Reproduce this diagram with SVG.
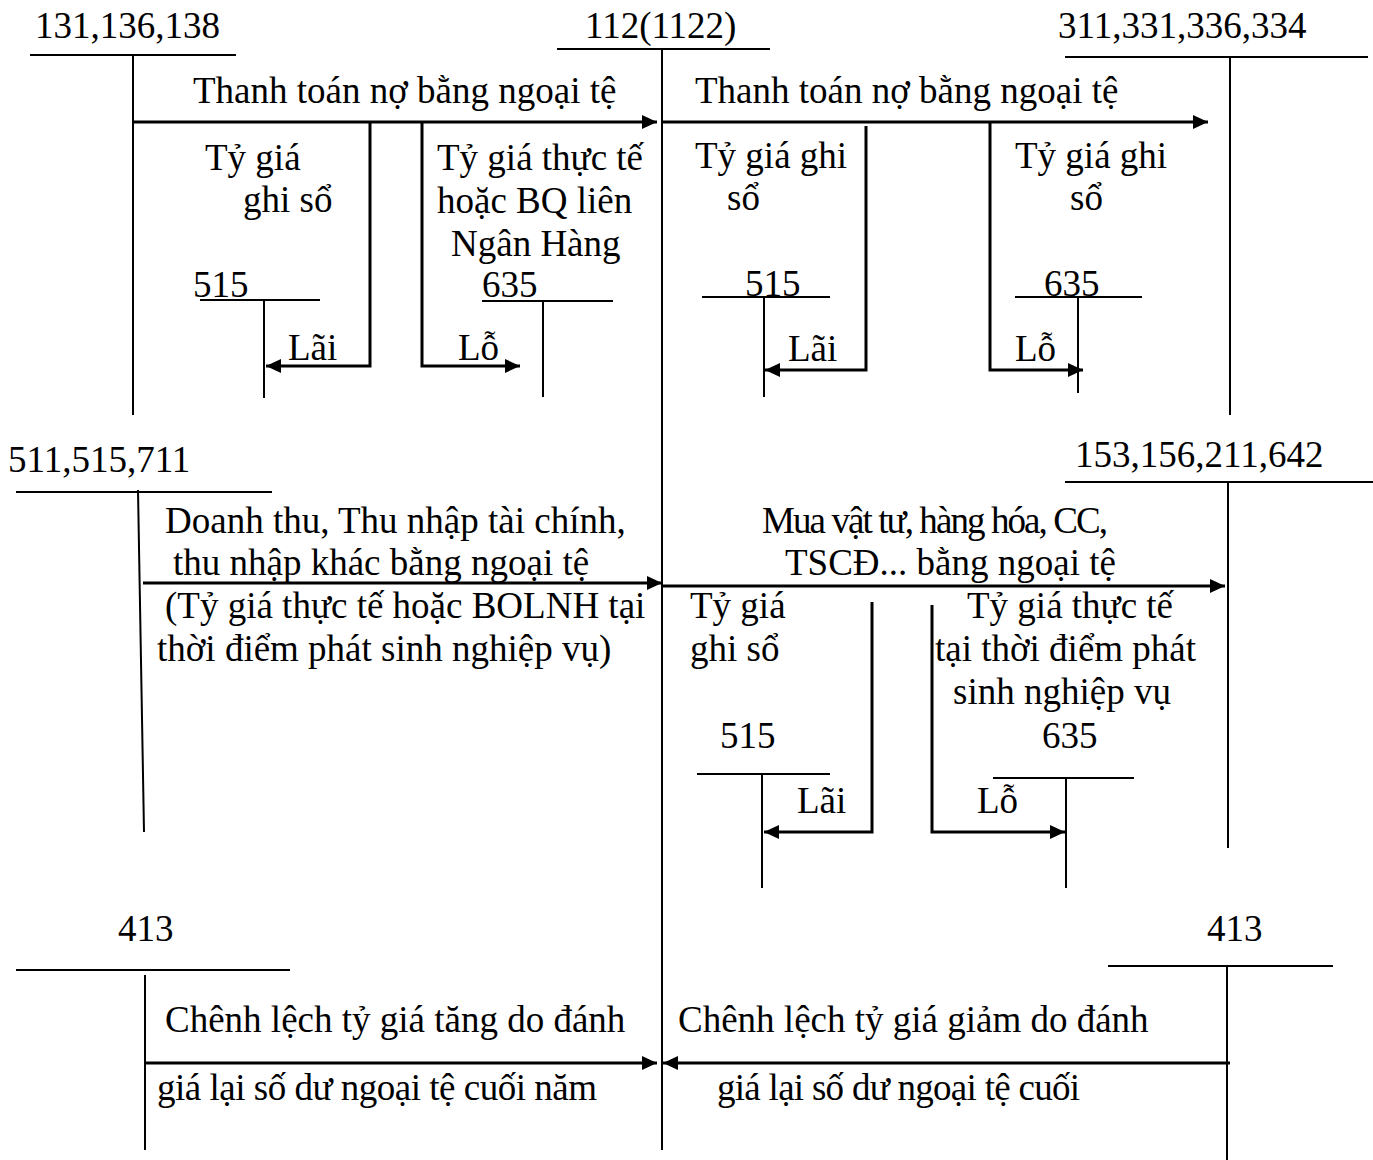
<svg xmlns="http://www.w3.org/2000/svg" width="1373" height="1160" viewBox="0 0 1373 1160">
<style>
text{font-family:"Liberation Serif","Times New Roman",serif;font-size:37px;fill:#000}
.ln{stroke:#000;stroke-width:2;fill:none}
.ar{stroke:#000;stroke-width:3;fill:none;marker-end:url(#ah)}
</style>
<defs>
<marker id="ah" markerUnits="userSpaceOnUse" markerWidth="16" markerHeight="16" refX="15" refY="8" orient="auto">
<path d="M0,1 L15,8 L0,15 z" fill="#000"/>
</marker>
</defs>
<rect width="1373" height="1160" fill="#fff"/>

<g id="acc-131">
<text x="35" y="38">131,136,138</text>
<line class="ln" x1="30" y1="55" x2="236" y2="55"/>
<line class="ln" x1="133" y1="55" x2="133" y2="415"/>
</g>
<g id="acc-112">
<text x="585" y="38">112(1122)</text>
<line class="ln" x1="557" y1="49" x2="770" y2="49"/>
<line class="ln" x1="662" y1="49" x2="662" y2="1150"/>
</g>
<g id="acc-311">
<text x="1058" y="38">311,331,336,334</text>
<line class="ln" x1="1065" y1="57" x2="1368" y2="57"/>
<line class="ln" x1="1230" y1="57" x2="1230" y2="415"/>
</g>
<g id="acc-515-a">
<text x="193" y="297">515</text>
<line class="ln" x1="200" y1="300" x2="320" y2="300"/>
<line class="ln" x1="264" y1="300" x2="264" y2="398"/>
</g>
<g id="acc-635-a">
<text x="482" y="297">635</text>
<line class="ln" x1="482" y1="301" x2="613" y2="301"/>
<line class="ln" x1="543" y1="301" x2="543" y2="397"/>
</g>
<g id="acc-515-b">
<text x="745" y="296">515</text>
<line class="ln" x1="702" y1="297" x2="830" y2="297"/>
<line class="ln" x1="764" y1="297" x2="764" y2="397"/>
</g>
<g id="acc-635-b">
<text x="1044" y="296">635</text>
<line class="ln" x1="1015" y1="297" x2="1142" y2="297"/>
<line class="ln" x1="1078" y1="297" x2="1078" y2="393"/>
</g>
<g id="acc-511">
<text x="8" y="472">511,515,711</text>
<line class="ln" x1="16" y1="492" x2="272" y2="492"/>
<line class="ln" x1="138" y1="490" x2="144" y2="832"/>
</g>
<g id="acc-153">
<text x="1075" y="467">153,156,211,642</text>
<line class="ln" x1="1065" y1="482" x2="1373" y2="482"/>
<line class="ln" x1="1228" y1="482" x2="1228" y2="848"/>
</g>
<g id="acc-515-c">
<text x="720" y="748">515</text>
<line class="ln" x1="697" y1="774" x2="830" y2="774"/>
<line class="ln" x1="762" y1="774" x2="762" y2="888"/>
</g>
<g id="acc-635-c">
<text x="1042" y="748">635</text>
<line class="ln" x1="993" y1="778" x2="1134" y2="778"/>
<line class="ln" x1="1066" y1="778" x2="1066" y2="888"/>
</g>
<g id="acc-413-a">
<text x="118" y="941">413</text>
<line class="ln" x1="16" y1="970" x2="290" y2="970"/>
<line class="ln" x1="145" y1="975" x2="145" y2="1150"/>
</g>
<g id="acc-413-b">
<text x="1207" y="941">413</text>
<line class="ln" x1="1108" y1="966" x2="1333" y2="966"/>
<line class="ln" x1="1227" y1="966" x2="1227" y2="1160"/>
</g>

<g id="connectors">
<line class="ar" x1="133" y1="122" x2="657" y2="122"/>
<polyline class="ar" points="370,122 370,366 266,366"/>
<polyline class="ar" points="422,122 422,366 520,366"/>
<line class="ar" x1="662" y1="122" x2="1208" y2="122"/>
<polyline class="ar" points="866,126 866,370 765,370"/>
<polyline class="ar" points="990,122 990,370 1083,370"/>
<line class="ar" x1="143" y1="583" x2="662" y2="583"/>
<line class="ar" x1="662" y1="586" x2="1225" y2="586"/>
<polyline class="ar" points="872,602 872,832 764,832"/>
<polyline class="ar" points="932,605 932,832 1065,832"/>
<line class="ar" x1="145" y1="1063" x2="657" y2="1063"/>
<line class="ar" x1="1230" y1="1063" x2="663" y2="1063"/>
</g>

<g id="labels">
<text x="193" y="103">Thanh toán nợ bằng ngoại tệ</text>
<text x="205" y="170">Tỷ giá</text>
<text x="243" y="212">ghi sổ</text>
<text x="437" y="170">Tỷ giá thực tế</text>
<text x="437" y="213">hoặc BQ liên</text>
<text x="451" y="256">Ngân Hàng</text>
<text x="288" y="360">Lãi</text>
<text x="458" y="360">Lỗ</text>
<text x="695" y="103">Thanh toán nợ bằng ngoại tệ</text>
<text x="695" y="168">Tỷ giá ghi</text>
<text x="727" y="210">sổ</text>
<text x="1015" y="168">Tỷ giá ghi</text>
<text x="1070" y="210">sổ</text>
<text x="788" y="361">Lãi</text>
<text x="1015" y="361">Lỗ</text>
<text x="165" y="533">Doanh thu, Thu nhập tài chính,</text>
<text x="173" y="575">thu nhập khác bằng ngoại tệ</text>
<text x="165" y="618">(Tỷ giá thực tế hoặc BOLNH tại</text>
<text x="157" y="661">thời điểm phát sinh nghiệp vụ)</text>
<text x="762" y="533" textLength="346" lengthAdjust="spacing">Mua vật tư, hàng hóa, CC,</text>
<text x="785" y="575">TSCĐ... bằng ngoại tệ</text>
<text x="690" y="618">Tỷ giá</text>
<text x="690" y="661">ghi sổ</text>
<text x="967" y="618">Tỷ giá thực tế</text>
<text x="935" y="661">tại thời điểm phát</text>
<text x="953" y="704">sinh nghiệp vụ</text>
<text x="797" y="813">Lãi</text>
<text x="977" y="813">Lỗ</text>
<text x="165" y="1032">Chênh lệch tỷ giá tăng do đánh</text>
<text x="157" y="1100" textLength="440" lengthAdjust="spacing">giá lại số dư ngoại tệ cuối năm</text>
<text x="678" y="1032">Chênh lệch tỷ giá giảm do đánh</text>
<text x="717" y="1100" textLength="363" lengthAdjust="spacing">giá lại số dư ngoại tệ cuối</text>
</g>
</svg>
